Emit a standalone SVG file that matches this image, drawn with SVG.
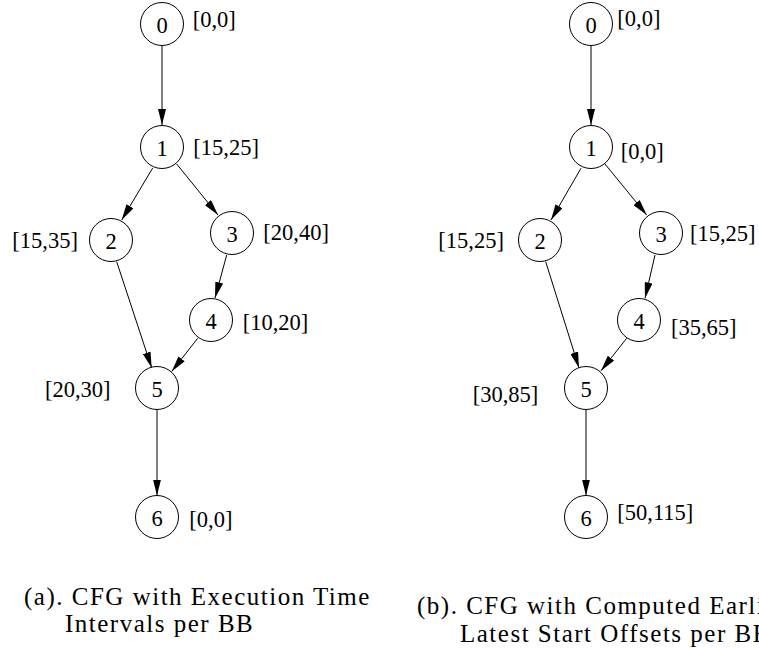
<svg xmlns="http://www.w3.org/2000/svg" width="759" height="650" viewBox="0 0 759 650">
<style>
.node circle{fill:#fff;stroke:#000;stroke-width:1}
.node text{font-family:"Liberation Serif","Times New Roman",serif;font-size:22.5px;fill:#000;text-anchor:middle}
.lbl{font-family:"Liberation Serif","Times New Roman",serif;font-size:22.5px;fill:#000}
.edges line{stroke:#000;stroke-width:1;fill:none;marker-end:url(#ah)}
.cap{font-family:"Liberation Serif","Times New Roman",serif;font-size:25px;letter-spacing:1.5px;fill:#000}
</style>
<defs>
<marker id="ah" markerUnits="userSpaceOnUse" markerWidth="16" markerHeight="8" refX="16" refY="4" orient="auto">
<path d="M0,0 L16,4 L0,8 z" fill="#000"/>
</marker>
</defs>
<rect width="759" height="650" fill="#fff"/>
<g id="edges" class="edges">
<line x1="162" y1="46" x2="162" y2="125"/>
<line x1="152.7" y1="168" x2="121.7" y2="220"/>
<line x1="176.7" y1="164" x2="218" y2="215"/>
<line x1="226.7" y1="255" x2="215" y2="298"/>
<line x1="116.7" y1="261.7" x2="151.7" y2="368"/>
<line x1="197.7" y1="338.3" x2="171.7" y2="371.5"/>
<line x1="157" y1="410" x2="157" y2="495.5"/>
<line x1="591" y1="46" x2="591" y2="125"/>
<line x1="581" y1="168.3" x2="551" y2="220"/>
<line x1="605" y1="164" x2="646.7" y2="215"/>
<line x1="655" y1="255" x2="645" y2="298.3"/>
<line x1="545.7" y1="261.7" x2="579" y2="368"/>
<line x1="626.7" y1="338.3" x2="601" y2="370.7"/>
<line x1="586" y1="410" x2="586" y2="495.5"/>
</g>
<g id="a0" class="node"><circle cx="162" cy="24" r="21.5"/><text x="162" y="33">0</text></g>
<g id="a1" class="node"><circle cx="162" cy="147" r="21.5"/><text x="162" y="156">1</text></g>
<g id="a2" class="node"><circle cx="111" cy="240" r="21.5"/><text x="111" y="249">2</text></g>
<g id="a3" class="node"><circle cx="232" cy="233" r="21.5"/><text x="232" y="242">3</text></g>
<g id="a4" class="node"><circle cx="211" cy="320" r="21.5"/><text x="211" y="329">4</text></g>
<g id="a5" class="node"><circle cx="157" cy="388" r="21.5"/><text x="157" y="397">5</text></g>
<g id="a6" class="node"><circle cx="157" cy="517" r="21.5"/><text x="157" y="526">6</text></g>
<g id="b0" class="node"><circle cx="591" cy="24" r="21.5"/><text x="591" y="33">0</text></g>
<g id="b1" class="node"><circle cx="591" cy="147" r="21.5"/><text x="591" y="156">1</text></g>
<g id="b2" class="node"><circle cx="540" cy="240" r="21.5"/><text x="540" y="249">2</text></g>
<g id="b3" class="node"><circle cx="661" cy="233" r="21.5"/><text x="661" y="242">3</text></g>
<g id="b4" class="node"><circle cx="639" cy="320" r="21.5"/><text x="639" y="329">4</text></g>
<g id="b5" class="node"><circle cx="586" cy="388" r="21.5"/><text x="586" y="397">5</text></g>
<g id="b6" class="node"><circle cx="586" cy="517" r="21.5"/><text x="586" y="526">6</text></g>
<g id="labels">
<text class="lbl" x="192.7" y="27">[0,0]</text>
<text class="lbl" x="193.3" y="155">[15,25]</text>
<text class="lbl" x="12.3" y="248">[15,35]</text>
<text class="lbl" x="263.3" y="240">[20,40]</text>
<text class="lbl" x="242.7" y="330">[10,20]</text>
<text class="lbl" x="45" y="397">[20,30]</text>
<text class="lbl" x="189.3" y="527">[0,0]</text>
<text class="lbl" x="617.3" y="26">[0,0]</text>
<text class="lbl" x="620.7" y="159">[0,0]</text>
<text class="lbl" x="438.3" y="248">[15,25]</text>
<text class="lbl" x="690" y="241">[15,25]</text>
<text class="lbl" x="671" y="335">[35,65]</text>
<text class="lbl" x="472.7" y="402">[30,85]</text>
<text class="lbl" x="617.3" y="520">[50,115]</text>
</g>
<g id="captions">
<text class="cap" x="24" y="605">(a). CFG with Execution Time</text>
<text class="cap" x="65" y="632">Intervals per BB</text>
<text class="cap" x="417" y="614">(b). CFG with Computed Earliest and</text>
<text class="cap" x="460" y="642">Latest Start Offsets per BB</text>
</g>
</svg>
